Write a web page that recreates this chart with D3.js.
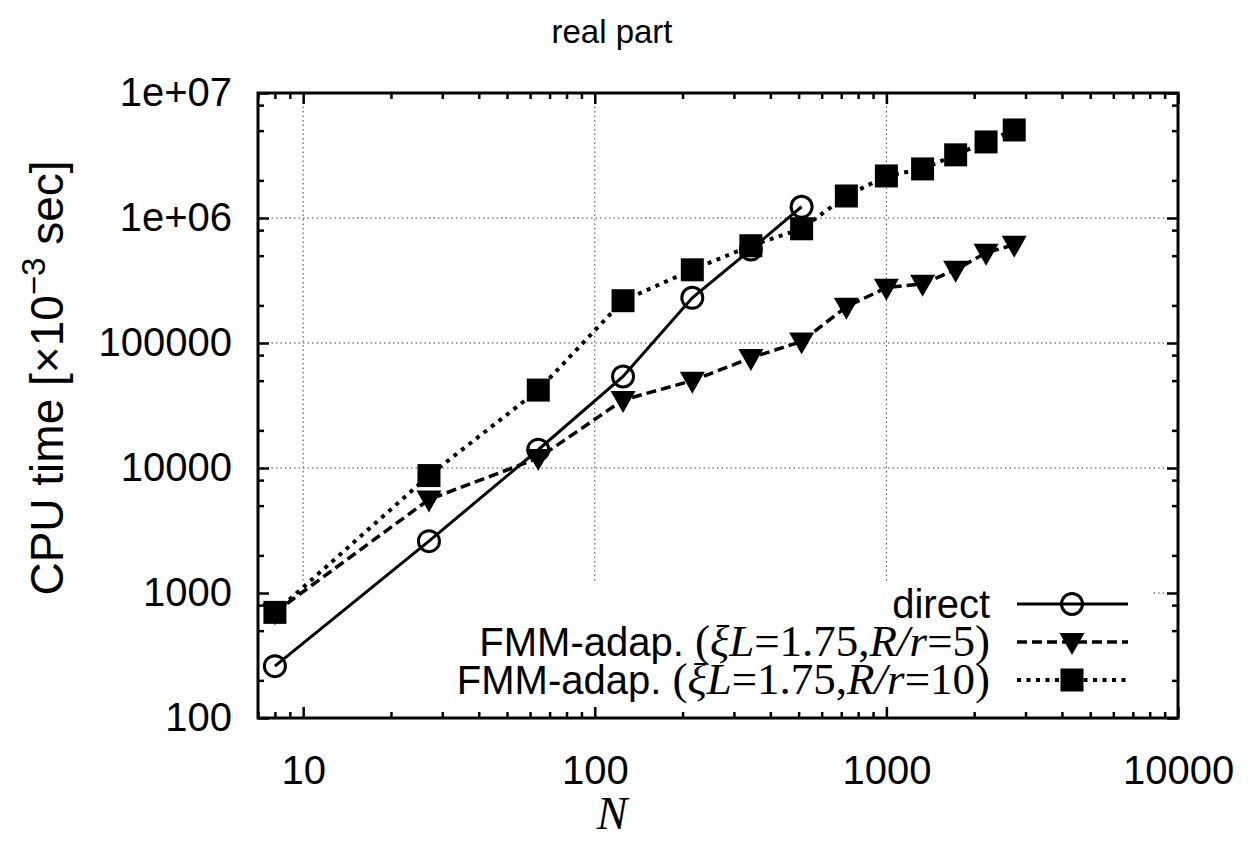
<!DOCTYPE html>
<html>
<head>
<meta charset="utf-8">
<script src="https://cdn.jsdelivr.net/npm/d3@7"></script>
<style>
  body { margin: 0; background: #fff; }
  svg text { font-family: "Liberation Sans", Arial, sans-serif; fill: #000; }
  .serif { font-family: "Liberation Serif", "Times New Roman", serif; }
</style>
</head>
<body>
<svg width="1248" height="842"></svg>
<script>
// data (N = cubes of 2..14)
var nValues = [8, 27, 64, 125, 216, 343, 512, 729, 1000, 1331, 1728, 2197, 2744];
var directTime = [260, 2600, 14000, 54000, 230000, 560000, 1230000];
var fmm5Time = [700, 5600, 12000, 35000, 50000, 76000, 103000, 195000, 277000, 298000, 385000, 527000, 611000];
var fmm10Time = [700, 8700, 42000, 218000, 385000, 600000, 820000, 1500000, 2170000, 2470000, 3200000, 4060000, 5060000];

var xTicks = [10, 100, 1000, 10000];
var yTicks = [100, 1000, 10000, 100000, 1e6, 1e7];
var yTickLabels = ["100", "1000", "10000", "100000", "1e+06", "1e+07"];

var svg = d3.select("svg"),
    pLeft = 258, pRight = 1178, pTop = 93, pBottom = 718;

var x = d3.scaleLog().domain([7, 10000]).range([pLeft, pRight]);
var y = d3.scaleLog().domain([100, 1e7]).range([pBottom, pTop]);

// minor tick values
var xMinor = [], yMinor = [];
[1, 10, 100, 1000].forEach(function (d) {
    for (var k = 2; k <= 9; k++) if (d * k >= 7 && d * k < 10000) xMinor.push(d * k);
});
[100, 1000, 10000, 100000, 1e6].forEach(function (d) {
    [2, 5, 8].forEach(function (k) { yMinor.push(d * k); });
});

// grid
var grid = svg.append("g").attr("stroke", "#444").attr("stroke-width", 1).attr("stroke-dasharray", "1.5,3");
grid.selectAll(".gx").data([10, 100, 1000]).enter().append("line")
    .attr("x1", function (d) { return x(d); }).attr("x2", function (d) { return x(d); })
    .attr("y1", pTop).attr("y2", pBottom);
grid.selectAll(".gy").data([1000, 10000, 100000, 1e6]).enter().append("line")
    .attr("x1", pLeft).attr("x2", pRight)
    .attr("y1", function (d) { return y(d); }).attr("y2", function (d) { return y(d); });

// opaque key box
svg.append("rect").attr("x", pLeft).attr("y", 583).attr("width", 1151 - pLeft).attr("height", pBottom - 583).attr("fill", "#fff");

// axes
function tickStyle(g) {
    g.select(".domain").remove();
    g.selectAll("line").attr("stroke", "#000").attr("stroke-width", 2.5);
}
svg.append("g").attr("transform", "translate(0," + pBottom + ")")
    .call(d3.axisBottom(x).tickValues(xTicks).tickSize(-11).tickPadding(38).tickFormat(d3.format("d")))
    .call(tickStyle)
    .selectAll("text").attr("font-size", 40).attr("font-family", "Liberation Sans, Arial, sans-serif");
svg.append("g").attr("transform", "translate(0," + pBottom + ")")
    .call(d3.axisBottom(x).tickValues(xMinor).tickSize(-6).tickFormat("")).call(tickStyle);
svg.append("g").attr("transform", "translate(0," + pTop + ")")
    .call(d3.axisTop(x).tickValues(xTicks).tickSize(-11).tickFormat("")).call(tickStyle);
svg.append("g").attr("transform", "translate(0," + pTop + ")")
    .call(d3.axisTop(x).tickValues(xMinor).tickSize(-6).tickFormat("")).call(tickStyle);

svg.append("g").attr("transform", "translate(" + pLeft + ",0)")
    .call(d3.axisLeft(y).tickValues(yTicks).tickSize(-11).tickPadding(26)
        .tickFormat(function (d, i) { return yTickLabels[i]; }))
    .call(tickStyle)
    .selectAll("text").attr("font-size", 40).attr("font-family", "Liberation Sans, Arial, sans-serif");
svg.append("g").attr("transform", "translate(" + pLeft + ",0)")
    .call(d3.axisLeft(y).tickValues(yMinor).tickSize(-6).tickFormat("")).call(tickStyle);
svg.append("g").attr("transform", "translate(" + pRight + ",0)")
    .call(d3.axisRight(y).tickValues(yTicks).tickSize(-11).tickFormat("")).call(tickStyle);
svg.append("g").attr("transform", "translate(" + pRight + ",0)")
    .call(d3.axisRight(y).tickValues(yMinor).tickSize(-6).tickFormat("")).call(tickStyle);

// frame
svg.append("rect").attr("x", pLeft).attr("y", pTop).attr("width", pRight - pLeft).attr("height", pBottom - pTop)
    .attr("fill", "none").attr("stroke", "#000").attr("stroke-width", 3);

// series
var series = [
    { name: "direct", values: directTime, dash: null, width: 3, marker: "circle" },
    { name: "fmm5", values: fmm5Time, dash: "10,5", width: 3.5, marker: "triangle" },
    { name: "fmm10", values: fmm10Time, dash: "4,5.5", width: 4, marker: "square" }
];

var line = d3.line()
    .x(function (d) { return x(d.n); })
    .y(function (d) { return y(d.t); });

function drawMarker(g, type, px, py) {
    if (type === "circle") {
        g.append("circle").attr("cx", px).attr("cy", py).attr("r", 10.5)
            .attr("fill", "none").attr("stroke", "#000").attr("stroke-width", 3);
    } else if (type === "square") {
        g.append("rect").attr("x", px - 11.5).attr("y", py - 11.5).attr("width", 23).attr("height", 23).attr("fill", "#000");
    } else {
        g.append("path").attr("d", "M" + (px - 12.5) + "," + (py - 9) + "L" + (px + 12.5) + "," + (py - 9) + "L" + px + "," + (py + 13) + "Z")
            .attr("fill", "#000");
    }
}

series.forEach(function (s) {
    var pts = s.values.map(function (t, i) { return { n: nValues[i], t: t }; });
    var g = svg.append("g");
    g.append("path").datum(pts).attr("d", line)
        .attr("fill", "none").attr("stroke", "#000").attr("stroke-width", s.width)
        .attr("stroke-dasharray", s.dash);
    pts.forEach(function (p) { drawMarker(g, s.marker, x(p.n), y(p.t)); });
});

// legend
var keyRight = 990, keyY = [604, 642, 680];
var key = svg.append("g");
key.append("text").attr("x", keyRight).attr("y", keyY[0] + 14).attr("text-anchor", "end")
    .attr("font-size", 40).text("direct");
[["5"], ["10"]].forEach(function (r, i) {
    var t = key.append("text").attr("x", keyRight).attr("y", keyY[i + 1] + 14).attr("text-anchor", "end").attr("font-size", 40);
    t.append("tspan").text("FMM-adap. ");
    t.append("tspan").attr("class", "serif").attr("font-size", 45).text("(");
    t.append("tspan").attr("class", "serif").attr("font-size", 45).attr("font-style", "italic").text("ξL");
    t.append("tspan").attr("class", "serif").attr("font-size", 45).text("=1.75,");
    t.append("tspan").attr("class", "serif").attr("font-size", 45).attr("font-style", "italic").text("R/r");
    t.append("tspan").attr("class", "serif").attr("font-size", 45).text("=" + r[0] + ")");
});
series.forEach(function (s, i) {
    key.append("line").attr("x1", 1017).attr("x2", 1128).attr("y1", keyY[i]).attr("y2", keyY[i])
        .attr("stroke", "#000").attr("stroke-width", s.width).attr("stroke-dasharray", s.dash);
    drawMarker(key, s.marker, 1072, keyY[i]);
});

// titles
svg.append("text").attr("x", 612).attr("y", 43).attr("text-anchor", "middle").attr("font-size", 33).text("real part");
svg.append("text").attr("class", "serif").attr("x", 612).attr("y", 829).attr("text-anchor", "middle")
    .attr("font-size", 46).attr("font-style", "italic").text("N");
var yl = svg.append("text").attr("transform", "translate(63,378) rotate(-90)").attr("text-anchor", "middle").attr("font-size", 46);
yl.append("tspan").text("CPU time [×10");
yl.append("tspan").attr("dy", -18).attr("font-size", 33).text("−3");
yl.append("tspan").attr("dy", 18).text(" sec]");
</script>
</body>
</html>
